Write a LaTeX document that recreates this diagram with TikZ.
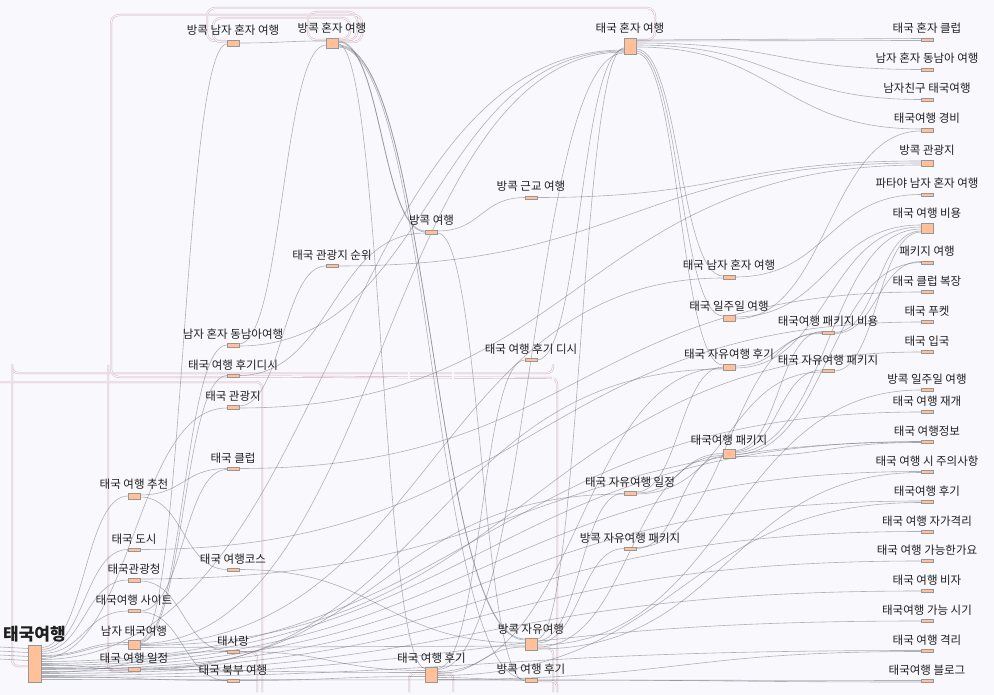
\documentclass[tikz,border=0pt]{standalone}
\usepackage{fontspec}
\setmainfont{Noto Sans CJK KR}
\usetikzlibrary{calc}
\pgfdeclarelayer{bglayer}
\pgfdeclarelayer{linklayer}
\pgfsetlayers{bglayer,linklayer,main}
\definecolor{bgc}{RGB}{248,248,253}
\definecolor{nodefill}{RGB}{255,192,154}
\definecolor{nodeline}{RGB}{155,150,150}
\definecolor{lnkc}{RGB}{105,105,115}
\definecolor{pinkc}{RGB}{212,178,188}
\tikzset{
 nd/.style={draw=nodeline, fill=nodefill, line width=0.8pt, inner sep=0pt, outer sep=0pt, minimum width=12pt, rectangle},
 lbl/.style={inner sep=0pt, anchor=base, font=\fontsize{11.5}{13}\selectfont, text=black!88},
 lnk/.style={draw=lnkc, line width=0.6pt, opacity=0.5},
 cyc/.style={draw=pinkc, line width=0.45pt, double=bgc, double distance=1.1pt, rounded corners=8pt},
}
\newcommand\mknode[5]{\node[nd, minimum height=#4pt] (#1) at (#2,#3) {};
  \node[lbl] (#1l) at ({#2},{#3-#4/2-5}) {#5};}
\newcommand\sklink[4]{\draw[lnk] let \p1=([yshift={-1pt*(#2)}]#1.east), \p2=([yshift={-1pt*(#4)}]#3.west), \p3=($(\p1)!0.5!(\p2)$) in (\p1) .. controls (\x3,\y1) and (\x3,\y2) .. (\p2);}
\begin{document}
\begin{tikzpicture}[x=1pt,y=-1pt]
\begin{pgfonlayer}{bglayer}
\fill[bgc] (0,0) rectangle (994,695);
\end{pgfonlayer}
\useasboundingbox (0,0) rectangle (994,695);
% nodes
\node[nd, minimum width=13pt, minimum height=37pt] (R) at (34.5,663.5) {};
\node[lbl, font=\fontsize{17}{19}\selectfont\bfseries] (Rl) at (34.5,640) {태국여행};
\mknode{a1}{134}{496}{6}{태국 여행 추천}
\mknode{a2}{134}{549.5}{3}{태국 도시}
\mknode{a3}{134}{580}{4}{태국관광청}
\mknode{a4}{134}{611}{3}{태국여행 사이트}
\mknode{a5}{134}{644.5}{9}{남자 태국여행}
\mknode{a6}{134}{669}{4}{태국 여행 일정}
\mknode{b1}{233}{43}{6}{방콕 남자 혼자 여행}
\mknode{b2}{233}{345}{4}{남자 혼자 동남아여행}
\mknode{b3}{233}{375.5}{3}{태국 여행 후기디시}
\mknode{b4}{233}{407}{4}{태국 관광지}
\mknode{b5}{233}{468.5}{3}{태국 클럽}
\mknode{b6}{233}{569.5}{3}{태국 여행코스}
\mknode{b7}{233}{651.5}{3}{태사랑}
\mknode{b8}{233}{680.5}{3}{태국 북부 여행}
\mknode{c1}{332}{43}{10}{방콕 혼자 여행}
\mknode{c2}{332}{266}{3}{태국 관광지 순위}
\mknode{d1}{431.5}{232}{4}{방콕 여행}
\mknode{d2}{431.5}{674.5}{15}{태국 여행 후기}
\mknode{e1}{531}{197.5}{3}{방콕 근교 여행}
\mknode{e2}{531}{360}{3}{태국 여행 후기 디시}
\mknode{e3}{531}{644}{12}{방콕 자유여행}
\mknode{e4}{531}{680}{4}{방콕 여행 후기}
\mknode{f1}{630}{46}{16}{태국 혼자 여행}
\mknode{f2}{630}{493}{4}{태국 자유여행 일정}
\mknode{f3}{630}{548.5}{3}{방콕 자유여행 패키지}
\mknode{g1}{729}{277}{4}{태국 남자 혼자 여행}
\mknode{g2}{729}{318}{6}{태국 일주일 여행}
\mknode{g3}{729}{367}{6}{태국 자유여행 후기}
\mknode{g4}{729}{453.5}{9}{태국여행 패키지}
\mknode{h1}{828}{332.5}{3}{태국여행 패키지 비용}
\mknode{h2}{828}{371}{3}{태국 자유여행 패키지}
\mknode{t1}{927}{39.5}{3}{태국 혼자 클럽}
\mknode{t2}{927}{69.5}{3}{남자 혼자 동남아 여행}
\mknode{t3}{927}{99.5}{3}{남자친구 태국여행}
\mknode{t4}{927}{130}{4}{태국여행 경비}
\mknode{t5}{927}{163}{6}{방콕 관광지}
\mknode{t6}{927}{194.5}{3}{파타야 남자 혼자 여행}
\mknode{t7}{927}{228}{10}{태국 여행 비용}
\mknode{t8}{927}{262.5}{3}{패키지 여행}
\mknode{t9}{927}{292}{3}{태국 클럽 복장}
\mknode{t10}{927}{322}{3}{태국 푸켓}
\mknode{t11}{927}{352}{3}{태국 입국}
\mknode{t12}{927}{390}{3}{방콕 일주일 여행}
\mknode{t13}{927}{412}{3}{태국 여행 재개}
\mknode{t14}{927}{441.5}{3}{태국 여행정보}
\mknode{t15}{927}{471.5}{3}{태국 여행 시 주의사항}
\mknode{t16}{927}{501.5}{3}{태국여행 후기}
\mknode{t17}{927}{531.5}{3}{태국 여행 자가격리}
\mknode{t18}{927}{561}{3}{태국 여행 가능한가요}
\mknode{t19}{927}{591}{3}{태국 여행 비자}
\mknode{t20}{927}{621}{3}{태국여행 가능 시기}
\mknode{t21}{927}{651}{3}{태국 여행 격리}
\mknode{t22}{927}{681}{3}{태국여행 블로그}
\begin{pgfonlayer}{linklayer}
% circular (pink) links
\draw[cyc] ([yshift=6pt]f1.east) -- (655,40) -- (655,8) -- (207,8) -- (207,41) -- ([yshift=2pt]b1.west);
\draw[cyc] ([yshift=3pt]c1.east) -- (357,40) -- (357,12) -- (308,12) -- (308,40) -- ([yshift=3pt]c1.west);
\draw[cyc] ([yshift=4pt]c1.east) -- (350,39) -- (350,18) -- (213,18) -- (213,42) -- ([yshift=1pt]b1.west);
\draw[cyc] ([yshift=1pt]c1.east) -- (362,42) -- (362,15) -- (111,15) -- (111,377) -- ([yshift=-1.5pt]b3.west);
\coordinate (k1) at (12,364);
\coordinate (k2) at (553,364);
\draw[cyc, rounded corners=6pt] (k1) -- (12,373) -- (553,373) -- (k2);
\draw[cyc, rounded corners=6pt] (k1) -- (12,666) -- ([yshift=-2.5pt]R.west);
\draw[cyc, rounded corners=6pt] (108,365) -- (108,671) -- ([yshift=-2pt]a6.west);
\draw[cyc, rounded corners=6pt] ([yshift=-1pt]b3.east) -- (557,378) -- (557,692);
\coordinate (k3) at (0,382);
\draw[cyc, rounded corners=6pt] (k3) -- (262,382) -- (262,692);
\draw[cyc, rounded corners=6pt] ([yshift=-0.5pt]b7.east) -- (257,652) -- (257,692);
\draw[cyc] (409,365) -- (409,692);
\draw[cyc, rounded corners=6pt] (409,692) -- (409,673) -- ([yshift=1pt]d2.west);
\draw[cyc] (453,365) -- (453,692);
\draw[cyc, rounded corners=6pt] ([yshift=1pt]d2.east) -- (453,673) -- (453,692);
\draw[cyc] (553,373) -- (553,692);
\draw[cyc, rounded corners=6pt] ([yshift=-4pt]e3.east) -- (553,648) -- (553,692);
\draw[cyc, rounded corners=6pt] ([yshift=-1pt]e4.east) -- (557,681) -- (557,692);
% links entering root from the left edge
\foreach \yy/\dd in {647/-15,651/-11,655/-7,659/-3}{
  \coordinate (in\yy) at (0,\yy);
  \draw[lnk] (in\yy) -- ([yshift={-1pt*(\dd)}]R.west);
}
% links
\sklink{R}{-16}{a1}{0}
\sklink{R}{-14}{a2}{0}
\sklink{R}{-12}{a3}{0}
\sklink{R}{-10}{a4}{0}
\sklink{R}{-8}{a5}{-2}
\sklink{R}{-7}{a5}{0}
\sklink{R}{-5}{b4}{1}
\sklink{R}{-4}{f1}{4}
\sklink{R}{-2}{t13}{0}
\sklink{R}{0}{t14}{0}
\sklink{R}{1}{a6}{0}
\sklink{R}{2}{t15}{0}
\sklink{R}{4}{t16}{-0.5}
\sklink{R}{5}{d2}{-2}
\sklink{R}{6}{t17}{0}
\sklink{R}{8}{t18}{0}
\sklink{R}{9}{b7}{0}
\sklink{R}{10}{t19}{0}
\sklink{R}{12}{t20}{0}
\sklink{R}{13}{b8}{0}
\sklink{R}{14}{t21}{-0.5}
\sklink{R}{16}{t22}{-0.5}
\sklink{a1}{-1}{b5}{0}
\sklink{a1}{1}{b6}{0}
\sklink{a2}{0}{t10}{0}
\sklink{a3}{1}{b7}{-1}
\sklink{a3}{-1}{t14}{0.5}
\sklink{a4}{0}{b5}{1}
\sklink{a4}{1}{b8}{0}
\sklink{a5}{-4}{b1}{1}
\sklink{a5}{-3}{b2}{0}
\sklink{a5}{-2}{b3}{0}
\sklink{a5}{-1}{f1}{6}
\sklink{a5}{0}{g1}{1}
\sklink{a5}{1}{t11}{0}
\sklink{a5}{3}{e3}{2}
\sklink{a6}{-1}{f2}{1}
\sklink{a6}{1}{g3}{2}
\sklink{b1}{0}{c1}{-2}
\sklink{b2}{-1}{c1}{2}
\sklink{b2}{1}{f1}{5}
\sklink{b3}{0}{d1}{1}
\sklink{b4}{-1}{c2}{0}
\sklink{b4}{1}{t5}{2}
\sklink{b5}{0}{t9}{0}
\sklink{b6}{0}{e3}{-1}
\sklink{b7}{0}{d2}{-4}
\sklink{b8}{0}{d2}{2}
\sklink{c1}{-2}{d1}{-1}
\sklink{c1}{-1}{d1}{0}
\sklink{c1}{1}{d2}{-6}
\sklink{c1}{2}{e3}{-5}
\sklink{c1}{3}{e3}{-4}
\sklink{c1}{4}{e4}{-1}
\sklink{c2}{0}{t5}{0}
\sklink{d1}{-1}{e1}{0}
\sklink{d1}{1}{e4}{1}
\sklink{e1}{0}{t5}{-2}
\sklink{d2}{-6}{e2}{0}
\sklink{d2}{-5}{f1}{7}
\sklink{d2}{-3}{g3}{1}
\sklink{d2}{-1}{e3}{3}
\sklink{d2}{1}{t16}{1}
\sklink{d2}{3}{e4}{0}
\sklink{d2}{5}{t21}{0.5}
\sklink{e2}{0}{f1}{3}
\sklink{e3}{-5}{f1}{2}
\sklink{e3}{-3}{f2}{0}
\sklink{e3}{-1}{f3}{0}
\sklink{e3}{1}{t12}{0}
\sklink{e3}{3}{g4}{2}
\sklink{e3}{5}{t15}{1}
\sklink{e4}{0}{t22}{1}
\sklink{f1}{-6}{t1}{-1}
\sklink{f1}{-5}{t1}{1}
\sklink{f1}{-3}{t2}{0}
\sklink{f1}{-1}{t3}{0}
\sklink{f1}{1}{t4}{-1}
\sklink{f1}{3}{g1}{-1}
\sklink{f1}{5}{g2}{-2}
\sklink{f1}{7}{g3}{-2}
\sklink{f2}{-1}{g3}{0}
\sklink{f2}{0}{g4}{0}
\sklink{f2}{1}{h2}{1}
\sklink{f3}{-1}{h1}{0}
\sklink{f3}{0}{g4}{3}
\sklink{g1}{0}{t6}{0}
\sklink{g2}{-1}{t7}{-3}
\sklink{g2}{1}{t4}{1}
\sklink{g3}{-1}{h1}{1}
\sklink{g3}{1}{t7}{-1}
\sklink{g4}{-3}{h1}{-1}
\sklink{g4}{-2}{h2}{-1}
\sklink{g4}{-1}{t7}{1}
\sklink{g4}{1}{t8}{0}
\sklink{g4}{3}{t14}{1}
\sklink{h1}{0}{t7}{3}
\sklink{h1}{1}{t8}{-1}
\sklink{h2}{0}{t7}{4}
\end{pgfonlayer}
\end{tikzpicture}
\end{document}
